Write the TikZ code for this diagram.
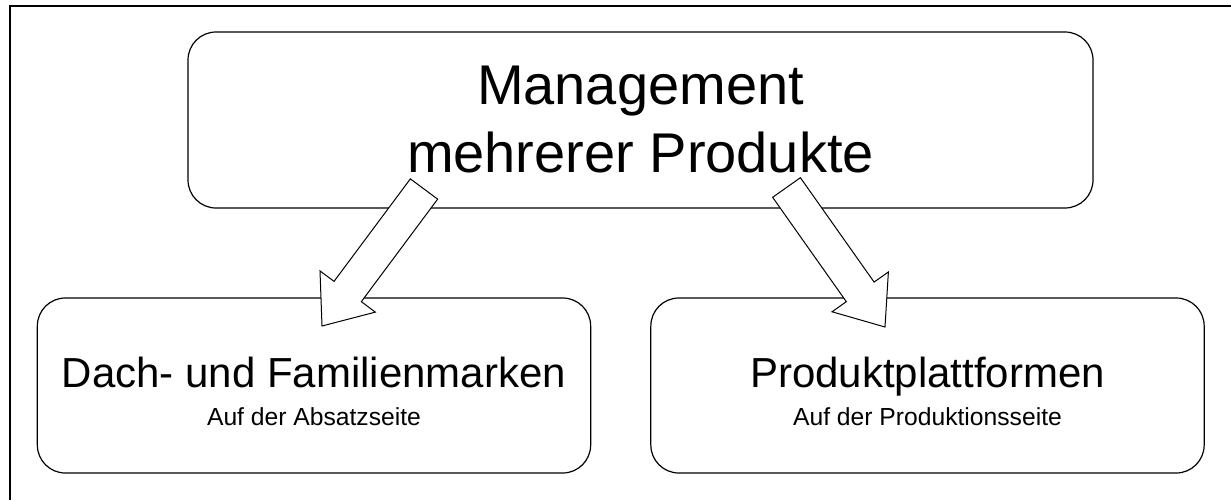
\documentclass[tikz,border=0pt]{standalone}
\usepackage{fontspec}
\setmainfont{Liberation Sans}
\usetikzlibrary{calc}

\newcommand\boxtitle[1]{{\fontsize{31.5pt}{28.5pt}\selectfont\rule{0pt}{31pt}#1}}
\newcommand\blockarrow[2]{%
  \coordinate (neck) at ($(#2)!32.25pt!(#1)$);
  \draw [my arrow] ($(#1)!12.75pt!90:(#2)$) -- ($(neck)!12.75pt!-90:(#1)$) -- ($(neck)!25.875pt!-90:(#1)$) -- (#2)
    -- ($(neck)!25.875pt!90:(#1)$) -- ($(neck)!12.75pt!90:(#1)$) -- ($(#1)!12.75pt!-90:(#2)$) -- cycle;}

\begin{document}
\begin{tikzpicture}[x=0.75pt, y=-0.75pt,
  my box/.style={draw, line width=0.9pt, rounded corners=21pt, align=center, inner sep=0pt},
  small box/.style={my box, minimum width=415pt, minimum height=131.25pt, font=\fontsize{18.5pt}{28.5pt}\selectfont},
  my arrow/.style={draw, fill=white, line width=0.75pt, line join=miter}]
  \useasboundingbox (0,0) rectangle (1231,500);
  \draw [line width=1.5pt] (10,500) -- (10,6) -- (1231,6);
  \node (mgmt) [my box, minimum width=678.75pt, minimum height=132pt, font=\fontsize{42pt}{51pt}\selectfont] at (640.5,120) {Management\\mehrerer Produkte};
  \node (dach) [small box] at (314,385.5) {\boxtitle{Dach- und Familienmarken}\\Auf der Absatzseite};
  \node (plattform) [small box] at (927.5,385.5) {\boxtitle{Produktplattformen}\\Auf der Produktionsseite};
  \coordinate (left tail) at (424,189);
  \coordinate (left tip) at (322,326);
  \coordinate (right tail) at (786.5,187.5);
  \coordinate (right tip) at (885,327);
  \blockarrow{left tail}{left tip}
  \blockarrow{right tail}{right tip}
\end{tikzpicture}
\end{document}
